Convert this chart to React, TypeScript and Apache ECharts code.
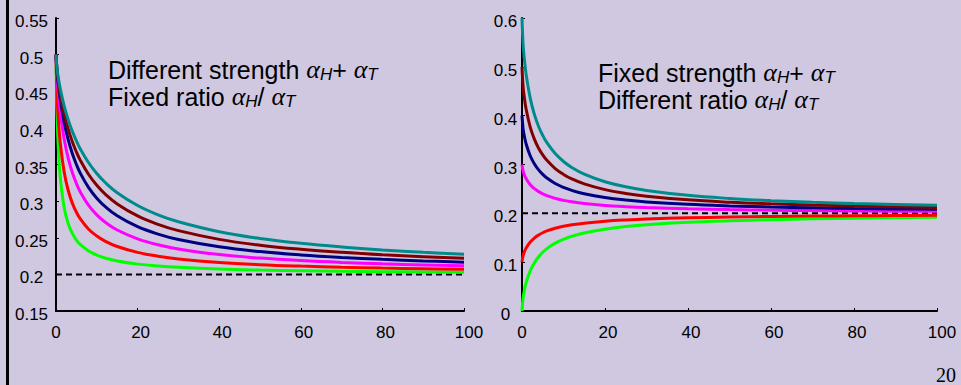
import React, { useEffect, useRef } from "react";
import * as echarts from "echarts";

// ---------- data ----------
const leftX = [0, 0.25, 0.5, 1, 2, 3, 4, 5, 6, 8, 10, 12, 15, 20, 25, 30, 40, 50, 60, 70, 80, 90, 100];
const leftGreen = [0.5, 0.4192, 0.3804, 0.3351, 0.2912, 0.2692, 0.2559, 0.2469, 0.2405, 0.2318, 0.2262, 0.2223, 0.2182, 0.214, 0.2114, 0.2096, 0.2073, 0.2059, 0.2049, 0.2042, 0.2037, 0.2033, 0.203];
const leftRed = [0.5, 0.4448, 0.418, 0.3821, 0.3398, 0.3145, 0.2973, 0.2848, 0.2753, 0.2616, 0.2523, 0.2454, 0.238, 0.23, 0.2248, 0.2211, 0.2163, 0.2133, 0.2113, 0.2098, 0.2086, 0.2077, 0.207];
const leftMagenta = [0.5, 0.4695, 0.4512, 0.4232, 0.3847, 0.3584, 0.339, 0.324, 0.3121, 0.2941, 0.2812, 0.2715, 0.2606, 0.2485, 0.2404, 0.2347, 0.227, 0.2222, 0.2188, 0.2163, 0.2144, 0.2129, 0.2117];
const leftNavy = [0.5, 0.4767, 0.4626, 0.4403, 0.4075, 0.3836, 0.365, 0.35, 0.3376, 0.3184, 0.304, 0.2928, 0.28, 0.2651, 0.255, 0.2476, 0.2376, 0.2311, 0.2265, 0.2231, 0.2205, 0.2184, 0.2167];
const leftMaroon = [0.5, 0.4788, 0.4667, 0.4477, 0.4195, 0.3982, 0.3812, 0.3671, 0.3553, 0.3363, 0.3216, 0.3099, 0.2962, 0.2798, 0.2683, 0.2597, 0.2478, 0.2399, 0.2343, 0.2301, 0.2268, 0.2242, 0.222];
const leftTeal = [0.5, 0.4813, 0.4709, 0.4546, 0.43, 0.4109, 0.3953, 0.3822, 0.3709, 0.3524, 0.3377, 0.3258, 0.3115, 0.294, 0.2813, 0.2718, 0.2582, 0.249, 0.2424, 0.2374, 0.2334, 0.2302, 0.2276];

const rightX = [0, 0.25, 0.5, 1, 2, 3, 4, 5, 6, 8, 10, 12, 15, 20, 25, 30, 40, 50, 60, 70, 80, 90, 100];
const rightGreen = [0, 0.0261, 0.0392, 0.058, 0.0826, 0.099, 0.111, 0.1203, 0.1277, 0.1389, 0.1469, 0.153, 0.1599, 0.1676, 0.1728, 0.1766, 0.1816, 0.1848, 0.1871, 0.1887, 0.19, 0.191, 0.1918];
const rightRed = [0.1, 0.113, 0.1196, 0.129, 0.1413, 0.1495, 0.1555, 0.1602, 0.1639, 0.1694, 0.1735, 0.1765, 0.1799, 0.1838, 0.1864, 0.1883, 0.1908, 0.1924, 0.1935, 0.1944, 0.195, 0.1955, 0.1959];
const rightMagenta = [0.3, 0.287, 0.2804, 0.271, 0.2587, 0.2505, 0.2445, 0.2399, 0.2362, 0.2306, 0.2266, 0.2235, 0.2201, 0.2162, 0.2136, 0.2117, 0.2092, 0.2076, 0.2065, 0.2056, 0.205, 0.2045, 0.2041];
const rightNavy = [0.4, 0.3739, 0.3608, 0.342, 0.3174, 0.301, 0.289, 0.2797, 0.2723, 0.2611, 0.2531, 0.247, 0.2401, 0.2324, 0.2272, 0.2234, 0.2184, 0.2152, 0.2129, 0.2113, 0.21, 0.209, 0.2082];
const rightMaroon = [0.5, 0.4609, 0.4412, 0.4131, 0.3761, 0.3515, 0.3334, 0.3196, 0.3085, 0.2917, 0.2797, 0.2705, 0.2602, 0.2485, 0.2408, 0.2352, 0.2276, 0.2228, 0.2194, 0.2169, 0.215, 0.2135, 0.2122];
const rightTeal = [0.6, 0.5478, 0.5216, 0.4841, 0.4348, 0.402, 0.3779, 0.3594, 0.3446, 0.3223, 0.3062, 0.294, 0.2803, 0.2647, 0.2544, 0.2469, 0.2368, 0.2304, 0.2259, 0.2226, 0.22, 0.218, 0.2163];

const dashX = [0, 100];
const dashY = [0.2, 0.2];

const colors = ["#00ff00", "#ff0000", "#ff00ff", "#000080", "#800000", "#008b8b"];
const leftSeries = [leftGreen, leftRed, leftMagenta, leftNavy, leftMaroon, leftTeal];
const rightSeries = [rightGreen, rightRed, rightMagenta, rightNavy, rightMaroon, rightTeal];

const leftYTicks = { min: 0.15, max: 0.55, interval: 0.05 };
const rightYTicks = { min: 0, max: 0.6, interval: 0.1 };
const xTicks = { min: 0, max: 100, interval: 20 };

const pageNumber = "20";

const BG = "#cfc8e0";
const SANS = "'Liberation Sans', Arial, sans-serif";
const SERIF = "'Liberation Serif', 'Times New Roman', serif";

function zip(xs: number[], ys: number[]) {
  return xs.map((x, i) => [x, ys[i]]);
}

function xAxisDef(gridIndex: number) {
  return {
    type: "value" as const,
    gridIndex,
    min: xTicks.min,
    max: xTicks.max,
    interval: xTicks.interval,
    axisLine: { show: true, onZero: false, lineStyle: { color: "#000", width: 2 } },
    axisTick: { show: true, inside: true, length: 3, lineStyle: { color: "#000", width: 1 } },
    splitLine: { show: false },
    axisLabel: {
      margin: 13,
      color: "#000",
      fontFamily: SANS,
      fontSize: 17,
      formatter: (v: number) => (v === 0 ? "{z|0}" : v >= 100 ? "{h|" + v + "}" : "{t|" + v + "}"),
      rich: {
        z: { fontFamily: SANS, fontSize: 17, color: "#000" },
        t: { fontFamily: SANS, fontSize: 17, color: "#000", padding: [0, 0, 0, 6] },
        h: { fontFamily: SANS, fontSize: 17, color: "#000", padding: [0, 0, 0, 10] },
      },
    },
  };
}

function yAxisDef(gridIndex: number, t: { min: number; max: number; interval: number }, margin: number, boxW: number) {
  return {
    type: "value" as const,
    gridIndex,
    min: t.min,
    max: t.max,
    interval: t.interval,
    axisLine: { show: true, onZero: false, lineStyle: { color: "#000", width: 2 } },
    axisTick: { show: true, inside: true, length: 3, lineStyle: { color: "#000", width: 1 } },
    splitLine: { show: false },
    axisLabel: {
      margin,
      color: "#000",
      fontFamily: SANS,
      fontSize: 17,
      formatter: (v: number) => "{c|" + String(parseFloat(v.toFixed(2))) + "}",
      rich: {
        c: { fontFamily: SANS, fontSize: 17, color: "#000", width: boxW, align: "center", padding: [7, 0, 0, 0] },
      },
    },
  };
}

function curveSeries(xs: number[], sets: number[][], idx: number) {
  const out: any[] = [];
  out.push({
    type: "line",
    xAxisIndex: idx,
    yAxisIndex: idx,
    data: zip(dashX, dashY),
    showSymbol: false,
    symbol: "none",
    silent: true,
    lineStyle: { color: "#000", width: 2, type: [6, 4] },
    z: 2,
  });
  sets.forEach((ys, i) => {
    out.push({
      type: "line",
      xAxisIndex: idx,
      yAxisIndex: idx,
      data: zip(xs, ys),
      showSymbol: false,
      symbol: "none",
      silent: true,
      smooth: 0.4,
      lineStyle: { color: colors[i], width: 3 },
      z: 3 + i,
    });
  });
  return out;
}

const richStyles = {
  n: { fontFamily: SANS, fontSize: 25, fill: "#000", lineHeight: 27 },
  a: { fontFamily: SERIF, fontStyle: "italic", fontSize: 26, fill: "#000", lineHeight: 27 },
  s: { fontFamily: SANS, fontStyle: "italic", fontSize: 17, fill: "#000", lineHeight: 14, verticalAlign: "bottom" },
};

const leftNote = "{n|Different strength }{a|α}{s|H}{n|+ }{a|α}{s|T}\n{n|Fixed ratio }{a|α}{s|H}{n|/ }{a|α}{s|T}";
const rightNote = "{n|Fixed strength }{a|α}{s|H}{n|+ }{a|α}{s|T}\n{n|Different ratio }{a|α}{s|H}{n|/ }{a|α}{s|T}";

export default function App() {
  const ref = useRef<HTMLDivElement>(null);
  useEffect(() => {
    if (!ref.current) return;
    const chart = echarts.init(ref.current, undefined, { renderer: "svg" });
    const option: any = {
      animation: false,
      backgroundColor: BG,
      grid: [
        { left: 56, top: 18, width: 408, height: 293 },
        { left: 522, top: 18, width: 415, height: 293 },
      ],
      xAxis: [xAxisDef(0), xAxisDef(1)],
      yAxis: [yAxisDef(0, leftYTicks, 6.5, 36), yAxisDef(1, rightYTicks, 2.5, 28)],
      series: [...curveSeries(leftX, leftSeries, 0), ...curveSeries(rightX, rightSeries, 1)],
      graphic: [
        { type: "rect", shape: { x: 6, y: 0, width: 3, height: 385 }, style: { fill: "#000" }, silent: true },
        {
          type: "text",
          x: 108,
          y: 56,
          silent: true,
          style: { text: leftNote, rich: richStyles, fill: "#000", fontFamily: SANS, fontSize: 25, verticalAlign: "top", align: "left" },
        },
        {
          type: "text",
          x: 598,
          y: 59,
          silent: true,
          style: { text: rightNote, rich: richStyles, fill: "#000", fontFamily: SANS, fontSize: 25, verticalAlign: "top", align: "left" },
        },
        {
          type: "text",
          x: 956,
          y: 375,
          silent: true,
          style: { text: pageNumber, fill: "#000", fontFamily: SERIF, fontSize: 20, align: "right", verticalAlign: "middle" },
        },
      ],
    };
    chart.setOption(option);
    return () => chart.dispose();
  }, []);
  return (
    <div
      ref={ref}
      style={{ position: "fixed", left: 0, top: 0, width: 961, height: 385, background: BG }}
    />
  );
}
